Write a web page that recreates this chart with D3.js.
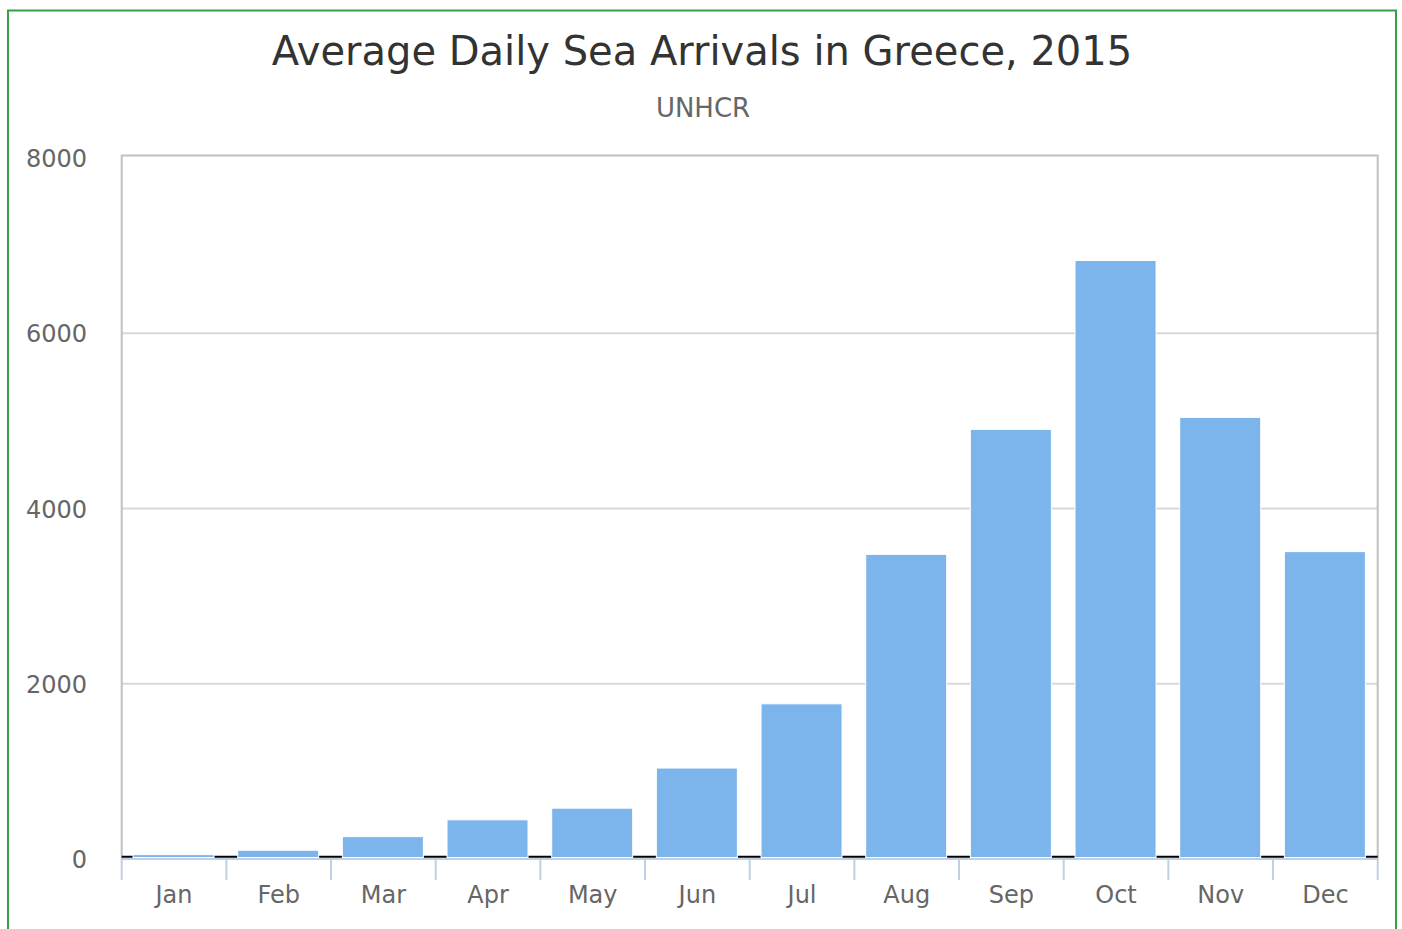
<!DOCTYPE html>
<html>
<head>
<meta charset="utf-8">
<script src="https://cdn.jsdelivr.net/npm/d3@7"></script>
<style>
  html, body { margin: 0; padding: 0; background: #fff; }
  svg { display: block; font-family: "DejaVu Sans", Verdana, sans-serif; }
</style>
</head>
<body>
<svg id="chart" width="1402" height="929"></svg>
<script>
// Average daily sea arrivals in Greece by month, 2015 (UNHCR)
const months = ["Jan", "Feb", "Mar", "Apr", "May", "Jun", "Jul", "Aug", "Sep", "Oct", "Nov", "Dec"];
const arrivals = [50, 100, 255, 447, 580, 1038, 1771, 3477, 4903, 6830, 5040, 3508];
const yTicks = [0, 2000, 4000, 6000, 8000];

const titleText = "Average Daily Sea Arrivals in Greece, 2015";
const subtitleText = "UNHCR";

const svg = d3.select("#chart");

const plot = { left: 121.7, right: 1377.7, top: 155.5, bottom: 859 };

const x = d3.scaleBand()
  .domain(months)
  .range([plot.left, plot.right])
  .paddingInner(0)
  .paddingOuter(0);

const y = d3.scaleLinear()
  .domain([0, 8000])
  .range([plot.bottom, 158]);

// outer frame
svg.append("rect")
  .attr("x", 8).attr("y", 10.5)
  .attr("width", 1388).attr("height", 940)
  .attr("fill", "none")
  .attr("stroke", "#35a045")
  .attr("stroke-width", 2);

// title and subtitle
svg.append("text")
  .attr("x", 702).attr("y", 65)
  .attr("text-anchor", "middle")
  .attr("font-size", 40)
  .attr("fill", "#333333")
  .text(titleText);

svg.append("text")
  .attr("x", 703).attr("y", 117)
  .attr("text-anchor", "middle")
  .attr("font-size", 26)
  .attr("fill", "#666666")
  .text(subtitleText);

// grid lines
svg.append("g")
  .selectAll("line")
  .data(yTicks.filter(d => d > 0 && d < 8000))
  .join("line")
  .attr("x1", plot.left).attr("x2", plot.right)
  .attr("y1", d => y(d)).attr("y2", d => y(d))
  .attr("stroke", "#d8d8d8")
  .attr("stroke-width", 2);

// plot border
svg.append("path")
  .attr("d", `M${plot.left},${plot.bottom}V${plot.top}H${plot.right}V${plot.bottom}`)
  .attr("fill", "none")
  .attr("stroke", "#c0c0c0")
  .attr("stroke-width", 2);

// zero line
svg.append("line")
  .attr("x1", plot.left).attr("x2", plot.right)
  .attr("y1", y(0) - 2.3).attr("y2", y(0) - 2.3)
  .attr("stroke", "#000000")
  .attr("stroke-width", 2);

// bars
const barW = 81;
svg.append("g")
  .selectAll("rect")
  .data(months.map((m, i) => ({ m, v: arrivals[i] })))
  .join("rect")
  .attr("x", d => x(d.m) + (x.bandwidth() - barW) / 2 - 0.5)
  .attr("y", d => y(d.v))
  .attr("width", barW)
  .attr("height", d => y(0) - 1.5 - y(d.v))
  .attr("fill", "#7cb5ec")
  .attr("stroke", "#ffffff")
  .attr("stroke-width", 1);

// x axis line and ticks at category boundaries
svg.append("line")
  .attr("x1", plot.left).attr("x2", plot.right)
  .attr("y1", plot.bottom).attr("y2", plot.bottom)
  .attr("stroke", "#c0d0e0")
  .attr("stroke-width", 2);

const bounds = months.map(m => x(m)).concat([x(months[months.length - 1]) + x.bandwidth()]);
svg.append("g")
  .selectAll("line")
  .data(bounds)
  .join("line")
  .attr("x1", d => d).attr("x2", d => d)
  .attr("y1", plot.bottom).attr("y2", plot.bottom + 21)
  .attr("stroke", "#c0d0e0")
  .attr("stroke-width", 2);

// x labels
const xAxis = svg.append("g")
  .attr("transform", `translate(0,${plot.bottom})`)
  .call(d3.axisBottom(x).tickSize(0).tickPadding(0));
xAxis.select(".domain").remove();
xAxis.selectAll("text")
  .attr("y", 44)
  .attr("dy", null)
  .attr("font-size", 24)
  .attr("font-family", "DejaVu Sans, Verdana, sans-serif")
  .attr("fill", "#666666");

// y labels
const yAxis = svg.append("g")
  .attr("transform", "translate(87,0)")
  .call(d3.axisLeft(y).tickValues(yTicks).tickSize(0).tickPadding(0).tickFormat(d3.format("d")));
yAxis.select(".domain").remove();
yAxis.selectAll("text")
  .attr("x", 0)
  .attr("dy", "0.36em")
  .attr("font-size", 24)
  .attr("font-family", "DejaVu Sans, Verdana, sans-serif")
  .attr("fill", "#666666");
</script>
</body>
</html>
